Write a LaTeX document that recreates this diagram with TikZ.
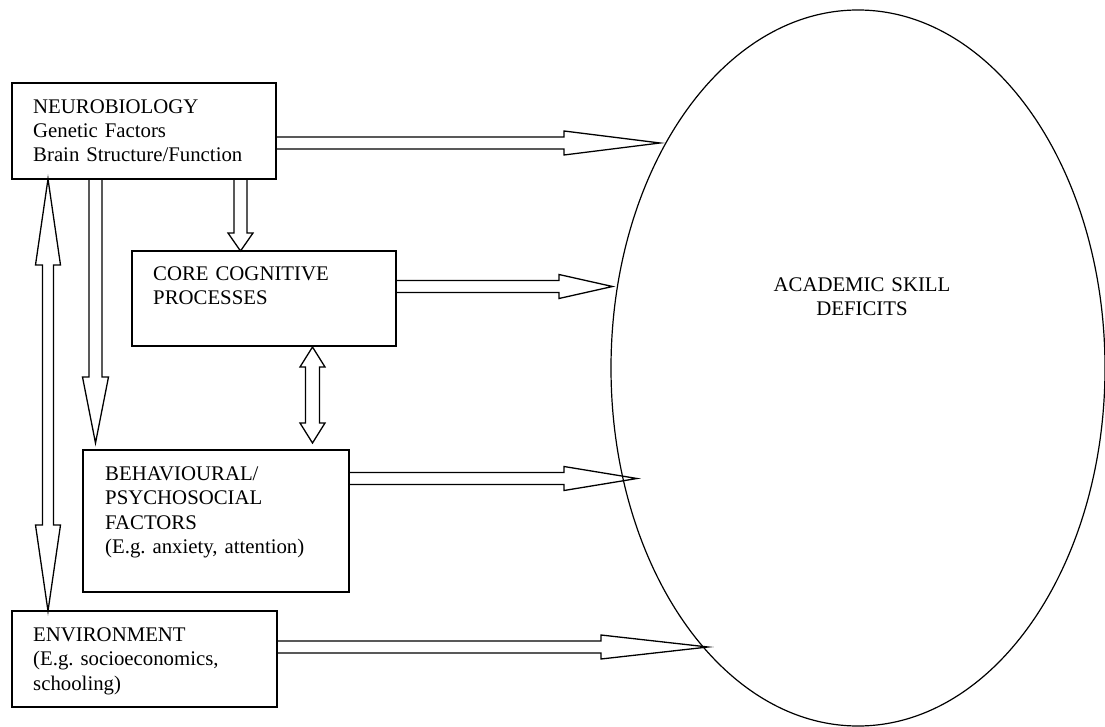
\documentclass[tikz,border=0pt]{standalone}
\usepackage{fontspec}
\setmainfont{Liberation Serif}
\frenchspacing
\usetikzlibrary{shapes.geometric,calc}
\tikzset{
  box/.style={draw, line width=1.6pt, inner sep=0pt, outer sep=0pt, anchor=north west},
  txt/.style={inner sep=0pt, anchor=base west, align=left, text width=#1,
    font=\fontsize{20.8}{24.2}\selectfont},
  txt/.default=260pt,
  ctxt/.style={inner sep=0pt, anchor=base, align=center, text width=240pt,
    font=\fontsize{20.8}{24.2}\selectfont},
  arr/.style={draw, line width=1.3pt, line join=miter},
  oval/.style={draw, ellipse, line width=1.2pt, inner sep=0pt},
}
% rightward block arrow: start node, tip coordinate, head length
\newcommand{\harr}[3]{%
  \draw[arr] ($(#1.east |- #2)+(0,-6)$) -- ($(#2)+(-#3,-6)$) -- ($(#2)+(-#3,-12)$)
    -- (#2) -- ($(#2)+(-#3,12)$) -- ($(#2)+(-#3,6)$) -- ($(#1.east |- #2)+(0,6)$);}
% downward block arrow: start, tip, head length, shaft half width, head half width
\newcommand{\varr}[5]{%
  \draw[arr] ($(#1)+(-#4,0)$) -- ($(#2)+(-#4,-#3)$) -- ($(#2)+(-#5,-#3)$)
    -- (#2) -- ($(#2)+(#5,-#3)$) -- ($(#2)+(#4,-#3)$) -- ($(#1)+(#4,0)$);}
% double vertical block arrow: top tip, bottom tip, head length, shaft half, head half
\newcommand{\dvarr}[5]{%
  \draw[arr] (#1) -- ($(#1)+(#5,#3)$) -- ($(#1)+(#4,#3)$) -- ($(#2)+(#4,-#3)$)
    -- ($(#2)+(#5,-#3)$) -- (#2) -- ($(#2)+(-#5,-#3)$) -- ($(#2)+(-#4,-#3)$)
    -- ($(#1)+(-#4,#3)$) -- ($(#1)+(-#5,#3)$) -- cycle;}
\begin{document}
\begin{tikzpicture}[x=1pt,y=-1pt]
\useasboundingbox (0,0) rectangle (1105,727);

% boxes
\node[box, minimum width=264pt, minimum height=96pt] (neuro) at (12,83) {};
\node[box, minimum width=264pt, minimum height=95pt] (core) at (132,251) {};
\node[box, minimum width=266pt, minimum height=142pt] (behav) at (83,450) {};
\node[box, minimum width=265pt, minimum height=96pt] (env) at (12,611) {};

% ellipse
\node[oval, minimum width=494pt, minimum height=716pt] (asd) at (858,368) {};

% texts
\node[txt] (neurot) at (33,113.3) {NEUROBIOLOGY\\Genetic Factors\\Brain Structure/Function};
\node[txt] (coret) at (153,280.7) {CORE COGNITIVE\\PROCESSES};
\node[txt] (behavt) at (105,480.7) {BEHAVIOURAL/\\PSYCHOSOCIAL\\FACTORS\\(E.g. anxiety, attention)};
\node[txt] (envt) at (33,641.7) {ENVIRONMENT\\(E.g. socioeconomics,\\schooling)};
\node[ctxt] (asdt) at (862,291.7) {ACADEMIC SKILL\\DEFICITS};

% arrow tips on the ellipse side
\coordinate (t1) at (660,143);
\coordinate (t2) at (612.5,286.5);
\coordinate (t3) at (637,478.5);
\coordinate (t4) at (708,647);

\harr{neuro}{t1}{96}
\harr{core}{t2}{53.5}
\harr{behav}{t3}{73}
\harr{env}{t4}{107}

% vertical arrows
\coordinate (v1) at (240.5,251);
\coordinate (v2) at (95.5,443);
\coordinate (d1a) at (48,179);
\coordinate (d1b) at (48,611);
\coordinate (d2a) at (312.5,347);
\coordinate (d2b) at (312.5,443);

\varr{neuro.south -| v1}{v1}{18}{6.5}{12.5}
\varr{neuro.south -| v2}{v2}{66}{6.5}{13}
\dvarr{d1a}{d1b}{86}{5.5}{12.5}
\dvarr{d2a}{d2b}{20}{7}{12.5}
\end{tikzpicture}
\end{document}
